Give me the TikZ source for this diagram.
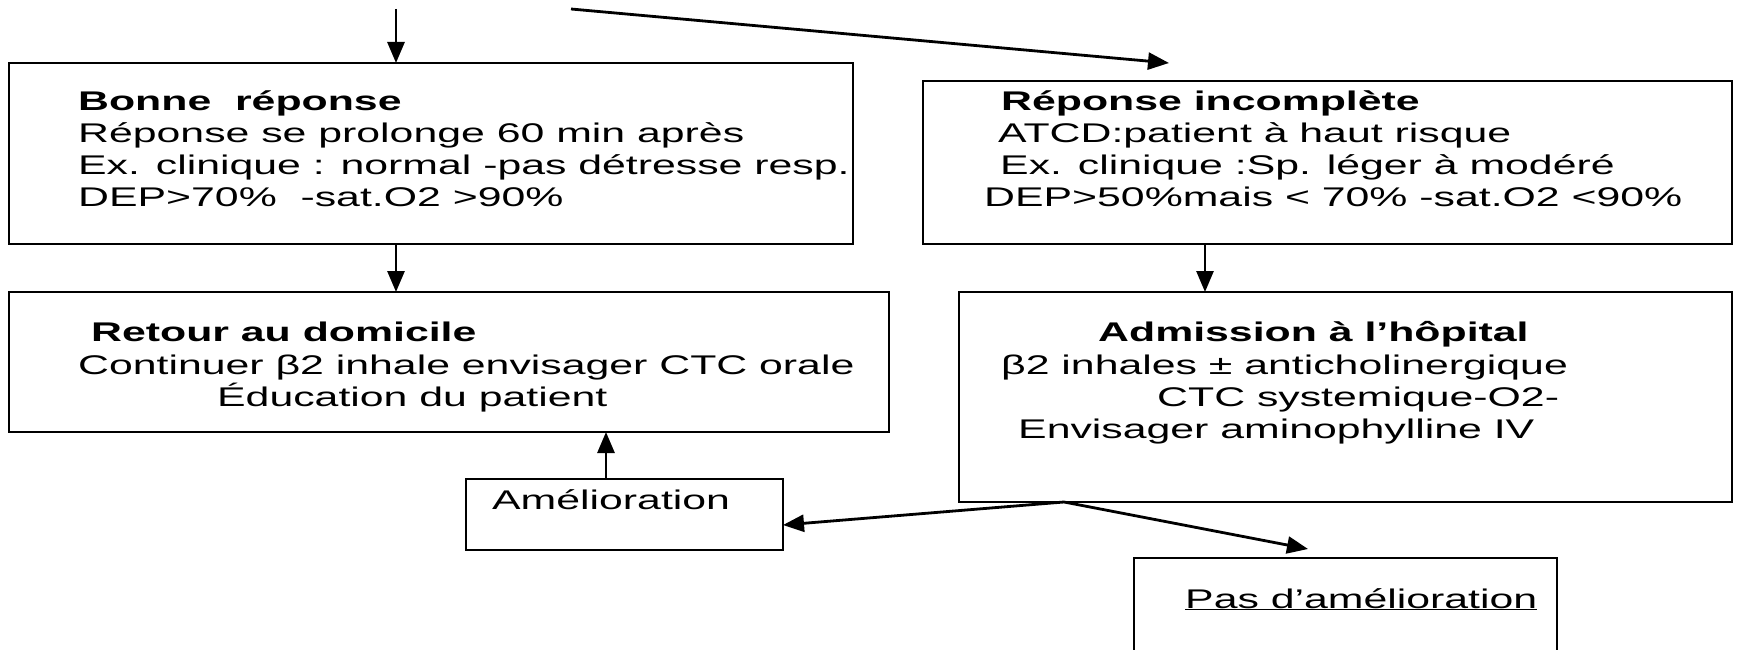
\documentclass[tikz,border=0pt]{standalone}
\usepackage{fontspec}
\setmainfont{Liberation Sans}[FakeStretch=1.585]
\usetikzlibrary{arrows.meta}
\begin{document}
\begin{tikzpicture}[x=1pt,y=-1pt,
  box/.style={draw,line width=2.8pt,inner sep=0pt,outer sep=0pt,anchor=north west},
  txt/.style={anchor=base west,inner sep=0pt,font=\fontsize{27pt}{32pt}\selectfont},
  bold/.style={anchor=base west,inner sep=0pt,font=\fontsize{27pt}{32pt}\selectfont\bfseries},
  arr/.style={line width=2.8pt,-{Triangle[length=21pt,width=17pt]}}]
\useasboundingbox (0,0) rectangle (1738,650);
\clip (0,0) rectangle (1738,650);
% boxes
\node[box,minimum width=844pt,minimum height=181pt] (b1) at (9,63) {};
\node[box,minimum width=809pt,minimum height=163pt] (b2) at (923,81) {};
\node[box,minimum width=880pt,minimum height=140pt] (b3) at (9,292) {};
\node[box,minimum width=773pt,minimum height=210pt] (b4) at (959,292) {};
\node[box,minimum width=317pt,minimum height=71pt] (am) at (466,479) {};
\node[box,minimum width=423pt,minimum height=150pt] (pas) at (1134,558) {};
% helper coordinates
\coordinate (s1) at (396,9);
\coordinate (s2) at (571,9);
\coordinate (e2) at (1169,63);
\coordinate (c4) at (1205,0);
\coordinate (ca) at (606,0);
\coordinate (fx) at (1064,0);
\coordinate (amin) at (783,525);
\coordinate (e5) at (1308,549);
% connectors
\draw[arr] (s1) -- (s1 |- b1.north);
\draw[arr] (s2) -- (e2);
\draw[arr] (s1 |- b1.south) -- (s1 |- b3.north);
\draw[arr] (c4 |- b2.south) -- (c4 |- b4.north);
\draw[arr] (ca |- am.north) -- (ca |- b3.south);
\draw[arr] (fx |- b4.south) -- (amin);
\draw[arr] (fx |- b4.south) -- (e5);
% texts box 1
\node[bold] (t11) at (78,111) {Bonne~ réponse};
\node[txt] (t12) at (78,143) {Réponse se prolonge 60 min après};
\node[txt] (t13) at (78,175) {Ex. clinique : normal -pas détresse resp.};
\node[txt] (t14) at (78,206) {DEP>70\%~ -sat.O2 >90\%};
% texts box 2
\node[bold] (t21) at (1001,111) {Réponse incomplète};
\node[txt] (t22) at (998,143) {ATCD:patient à haut risque};
\node[txt] (t23) at (1000,175) {Ex. clinique :Sp. léger à modéré};
\node[txt] (t24) at (984,206) {DEP>50\%mais < 70\% -sat.O2 <90\%};
% texts box 3
\node[bold] (t31) at (91,341) {Retour au domicile};
\node[txt] (t32) at (78,374) {Continuer β2 inhale envisager CTC orale};
\node[txt] (t33) at (217,406) {Éducation du patient};
% texts box 4
\node[bold] (t41) at (1098,341) {Admission à l’hôpital};
\node[txt] (t42) at (1001,374) {β2 inhales ± anticholinergique};
\node[txt] (t43) at (1157,406) {CTC systemique-O2-};
\node[txt] (t44) at (1018,438) {Envisager aminophylline IV};
% small boxes
\node[txt] (t51) at (492,509) {Amélioration};
\node[txt] (t61) at (1185,608) {\underline{Pas d’amélioration}};
\end{tikzpicture}
\end{document}
